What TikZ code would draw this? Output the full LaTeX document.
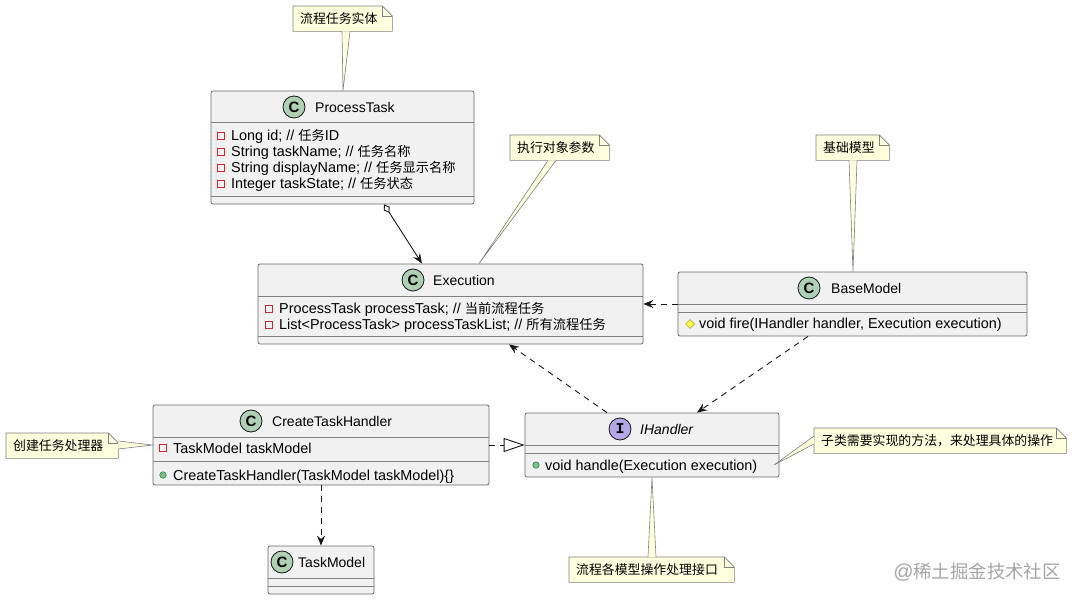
\documentclass[tikz,border=0pt]{standalone}
\usepackage{fontspec}
\setmainfont{Liberation Sans}
\newfontfamily\cjk{Noto Sans CJK SC}[Scale=0.92]
\newfontfamily\iconmono{Liberation Mono}
\newcommand{\zh}[1]{{\cjk #1}}
\usetikzlibrary{arrows.meta,shapes.geometric,backgrounds}
\definecolor{classbg}{HTML}{F1F1F1}
\definecolor{classline}{HTML}{181818}
\definecolor{notebg}{HTML}{FEFFDD}
\definecolor{cgreen}{HTML}{ADD1B2}
\definecolor{ipurple}{HTML}{B4A7E5}
\definecolor{privred}{HTML}{C82930}
\definecolor{pubgreen}{HTML}{84BE84}
\definecolor{publine}{HTML}{038048}
\definecolor{protfill}{HTML}{FFFF44}
\definecolor{protline}{HTML}{B38D22}

\begin{document}
\begin{tikzpicture}[x=1pt,y=-1pt,font=\fontsize{14}{16}\selectfont,
  classbox/.style={draw=classline!65,fill=classbg,line width=0.8pt,rounded corners=2pt,inner sep=0},
  sepline/.style={draw=classline!55,line width=0.8pt},
  cicon/.style={circle,draw=classline,fill=cgreen,line width=0.8pt,minimum size=22pt,inner sep=0,font=\fontsize{15}{15}\selectfont\bfseries},
  iicon/.style={cicon,fill=ipurple,font=\fontsize{15}{15}\selectfont\iconmono\bfseries},
  ctitle/.style={anchor=west,inner sep=0},
  member/.style={anchor=west,inner sep=0,text height=10pt,text depth=0pt,font=\fontsize{14.4}{16}\selectfont},
  privattr/.style={rectangle,draw=privred,line width=0.7pt,minimum size=6.5pt,inner sep=0},
  pubmeth/.style={circle,draw=publine,fill=pubgreen,line width=0.5pt,minimum size=6.5pt,inner sep=0},
  protmeth/.style={diamond,draw=protline,fill=protfill,line width=0.5pt,minimum size=9pt,inner sep=0},
  note/.style={anchor=north west,minimum height=25pt,inner xsep=7pt,inner ysep=0,align=left},
  noteline/.style={draw=classline!55,fill=notebg,line width=0.6pt},
  tailline/.style={draw=classline!55,line width=0.6pt},
  dep/.style={draw=classline,line width=0.9pt,dash pattern=on 6pt off 5pt,-{Stealth[length=10pt,width=8pt,inset=3.5pt]}},
  aggr/.style={draw=classline,line width=0.9pt,{Diamond[open,length=10pt,width=7pt]}-{Stealth[length=10pt,width=8pt,inset=3.5pt]}},
  real/.style={draw=classline,line width=0.9pt,dash pattern=on 6pt off 5pt,-{Triangle[open,length=21pt,width=14pt]}},
  wmark/.style={text=black!35,font=\fontsize{20}{22}\selectfont}]
\useasboundingbox (0,0) rectangle (1076,601);
\begin{pgfonlayer}{background}
  \fill[white] (0,0) rectangle (1076,601);
\end{pgfonlayer}

% ProcessTask
\node[classbox,minimum width=263pt,minimum height=113pt] (pt) at (342.5,147.5) {};
\node[cicon] (pticon) at (294,107) {C};
\node[ctitle] (ptname) at (315,107) {ProcessTask};
\draw[sepline] (pt.west |- 0,122) -- (pt.east |- 0,122);
\draw[sepline] (pt.west |- 0,196) -- (pt.east |- 0,196);
\foreach \t [count=\i] in {{Long id; // \zh{任务}ID},{String taskName; // \zh{任务名称}},
    {String displayName; // \zh{任务显示名称}},{Integer taskState; // \zh{任务状态}}}
  {\node[privattr] (ptic\i) at (221,120+16*\i) {};
   \node[member] (ptm\i) at (231,120+16*\i) {\t};}

% Execution
\node[classbox,minimum width=385pt,minimum height=80pt] (ex) at (450.5,304) {};
\node[cicon] (exicon) at (413,280) {C};
\node[ctitle] (exname) at (433,280) {Execution};
\draw[sepline] (ex.west |- 0,296) -- (ex.east |- 0,296);
\draw[sepline] (ex.west |- 0,336) -- (ex.east |- 0,336);
\foreach \t [count=\i] in {{ProcessTask processTask; // \zh{当前流程任务}},
    {List<ProcessTask> processTaskList; // \zh{所有流程任务}}}
  {\node[privattr] (exic\i) at (269,293+16*\i) {};
   \node[member] (exm\i) at (279,293+16*\i) {\t};}

% BaseModel
\node[classbox,minimum width=349pt,minimum height=64pt] (bm) at (852.5,304) {};
\node[cicon] (bmicon) at (809,288) {C};
\node[ctitle] (bmname) at (831,288) {BaseModel};
\draw[sepline] (bm.west |- 0,304) -- (bm.east |- 0,304);
\draw[sepline] (bm.west |- 0,312) -- (bm.east |- 0,312);
\node[protmeth] (bmic1) at (690,324) {};
\node[member] (bmm1) at (699,324) {void fire(IHandler handler, Execution execution)};

% CreateTaskHandler
\node[classbox,minimum width=336pt,minimum height=80pt] (ct) at (321,445) {};
\node[cicon] (cticon) at (251,421) {C};
\node[ctitle] (ctname) at (272,421) {CreateTaskHandler};
\draw[sepline] (ct.west |- 0,437) -- (ct.east |- 0,437);
\draw[sepline] (ct.west |- 0,461) -- (ct.east |- 0,461);
\node[privattr] (ctic1) at (163,448) {};
\node[member] (ctm1) at (173,448) {TaskModel taskModel};
\node[pubmeth] (ctic2) at (163,475) {};
\node[member] (ctm2) at (173,475) {CreateTaskHandler(TaskModel taskModel)\{\}};

% IHandler
\node[classbox,minimum width=254pt,minimum height=64pt] (ih) at (652,445) {};
\node[iicon] (ihicon) at (620,429) {I};
\node[ctitle] (ihname) at (640,429) {\itshape IHandler};
\draw[sepline] (ih.west |- 0,445) -- (ih.east |- 0,445);
\draw[sepline] (ih.west |- 0,453) -- (ih.east |- 0,453);
\node[pubmeth] (ihic1) at (536,465) {};
\node[member] (ihm1) at (545,465) {void handle(Execution execution)};

% TaskModel
\node[classbox,minimum width=106pt,minimum height=48pt] (tm) at (321,570) {};
\node[cicon] (tmicon) at (282,562) {C};
\node[ctitle] (tmname) at (298,562) {TaskModel};
\draw[sepline] (tm.west |- 0,578) -- (tm.east |- 0,578);
\draw[sepline] (tm.west |- 0,586) -- (tm.east |- 0,586);

% notes
\foreach \nt/\x/\y/\w/\t in {n1/293/6/99/流程任务实体,n2/510/135/99/执行对象参数,
    n3/816/135/73/基础模型,n4/6/433/112/创建任务处理器,
    n5/814/428/252/子类需要实现的方法，来处理具体的操作,n6/569/557/165/流程各模型操作处理接口}
  {\pgfmathsetmacro{\tw}{\w-14}
   \node[note,text width=\tw pt] (\nt) at (\x,\y) {\zh{\t}};
   \begin{pgfonlayer}{background}
     \filldraw[noteline] (\nt.south west) -- (\nt.north west) -- ([xshift=-10pt]\nt.north east)
       -- ([yshift=-10pt]\nt.north east) -- (\nt.south east) -- cycle;
     \draw[tailline] ([xshift=-10pt]\nt.north east) -- ++(0,10) -- ([yshift=-10pt]\nt.north east);
   \end{pgfonlayer}}
\coordinate (ihend) at (774,465);

% note tails
\fill[notebg] (n1.south -| 342,0) -- (pt.north -| 343,0) -- (n1.south -| 350,0) -- cycle;
\draw[tailline] (n1.south -| 342,0) -- (pt.north -| 343,0) -- (n1.south -| 350,0);
\fill[notebg] (n2.south -| 548,0) -- (ex.north -| 479,0) -- (n2.south -| 556,0) -- cycle;
\draw[tailline] (n2.south -| 548,0) -- (ex.north -| 479,0) -- (n2.south -| 556,0);
\fill[notebg] (n3.south -| 849,0) -- (bm.north -| 853,0) -- (n3.south -| 857,0) -- cycle;
\draw[tailline] (n3.south -| 849,0) -- (bm.north -| 853,0) -- (n3.south -| 857,0);
\fill[notebg] (n4.east |- 0,441) -- (ct.west) -- (n4.east |- 0,449) -- cycle;
\draw[tailline] (n4.east |- 0,441) -- (ct.west) -- (n4.east |- 0,449);
\fill[notebg] (n5.west |- 0,436) -- (ihend) -- (n5.west |- 0,444) -- cycle;
\draw[tailline] (n5.west |- 0,436) -- (ihend) -- (n5.west |- 0,444);
\fill[notebg] (n6.north -| 648,0) -- (ih.south -| 652,0) -- (n6.north -| 656,0) -- cycle;
\draw[tailline] (n6.north -| 648,0) -- (ih.south -| 652,0) -- (n6.north -| 656,0);

% relations
\draw[aggr] (pt.south -| 384,0) -- (ex.north -| 422,0);
\draw[dep] (bm.west) -- (ex.east);
\draw[dep] (ih.north -| 607,0) -- (ex.south -| 509,0);
\draw[dep] (bm.south -| 808,0) -- (ih.north -| 697,0);
\draw[real] (ct.east) -- (ih.west);
\draw[dep] (ct.south) -- (tm.north);

\node[wmark] (wm) at (977,572) {@\zh{稀土掘金技术社区}};
\end{tikzpicture}
\end{document}
